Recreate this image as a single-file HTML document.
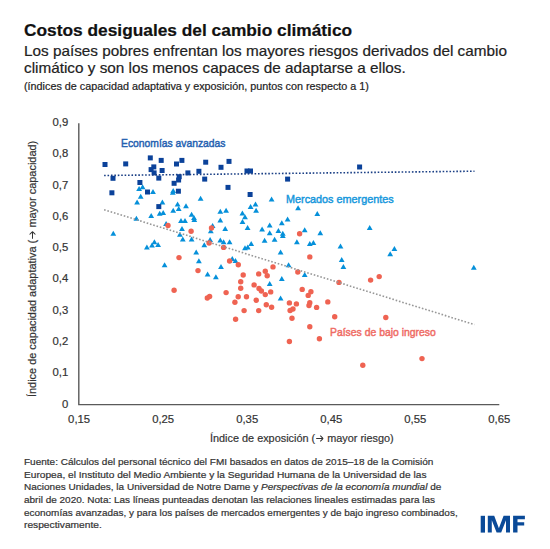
<!DOCTYPE html>
<html><head><meta charset="utf-8"><style>
html,body{margin:0;padding:0;background:#fff;}
body{width:550px;height:549px;position:relative;overflow:hidden;font-family:"Liberation Sans",sans-serif;}
.t{position:absolute;white-space:nowrap;transform-origin:0 0;line-height:1;-webkit-text-stroke:0.2px currentColor;}
.ty{position:absolute;left:28.2px;width:40px;text-align:right;font-size:11.3px;color:#333;line-height:1;-webkit-text-stroke:0.2px currentColor;}
.tx{position:absolute;top:414.23px;width:60px;text-align:center;font-size:11.3px;color:#333;line-height:1;-webkit-text-stroke:0.2px currentColor;}
svg{position:absolute;left:0;top:0;}
</style></head><body>
<svg width="550" height="549" viewBox="0 0 550 549">
<path d="M78.8 123.3V404.6H499.3" fill="none" stroke="#5a5a5a" stroke-width="1.4"/>
<g fill="#0590da"><path d="M136.2 191.1L139.1 186.1L142.0 191.1Z"/><path d="M139.7 189.3L142.6 184.3L145.5 189.3Z"/><path d="M150.1 193.9L153.0 188.9L155.9 193.9Z"/><path d="M137.8 198.8L140.7 193.8L143.6 198.8Z"/><path d="M134.2 204.4L137.1 199.4L140.0 204.4Z"/><path d="M159.5 204.4L162.4 199.4L165.3 204.4Z"/><path d="M148.3 217.9L151.2 212.9L154.1 217.9Z"/><path d="M156.8 215.7L159.7 210.7L162.6 215.7Z"/><path d="M160.3 215.0L163.2 210.0L166.1 215.0Z"/><path d="M133.5 220.7L136.4 215.7L139.3 220.7Z"/><path d="M170.3 193.0L173.2 188.0L176.1 193.0Z"/><path d="M169.9 194.7L172.8 189.7L175.7 194.7Z"/><path d="M197.7 200.7L200.6 195.7L203.5 200.7Z"/><path d="M174.7 206.5L177.6 201.5L180.5 206.5Z"/><path d="M175.8 210.9L178.7 205.9L181.6 210.9Z"/><path d="M183.1 208.3L186.0 203.3L188.9 208.3Z"/><path d="M170.3 212.7L173.2 207.7L176.1 212.7Z"/><path d="M188.7 216.7L191.6 211.7L194.5 216.7Z"/><path d="M191.1 220.0L194.0 215.0L196.9 220.0Z"/><path d="M191.4 221.9L194.3 216.9L197.2 221.9Z"/><path d="M217.4 213.8L220.3 208.8L223.2 213.8Z"/><path d="M223.2 212.7L226.1 207.7L229.0 212.7Z"/><path d="M239.5 215.4L242.4 210.4L245.3 215.4Z"/><path d="M242.1 219.2L245.0 214.2L247.9 219.2Z"/><path d="M178.1 222.9L181.0 217.9L183.9 222.9Z"/><path d="M182.1 222.9L185.0 217.9L187.9 222.9Z"/><path d="M217.4 222.6L220.3 217.6L223.2 222.6Z"/><path d="M239.6 224.0L242.5 219.0L245.4 224.0Z"/><path d="M247.7 209.0L250.6 204.0L253.5 209.0Z"/><path d="M252.6 206.4L255.5 201.4L258.4 206.4Z"/><path d="M253.2 212.8L256.1 207.8L259.0 212.8Z"/><path d="M268.7 201.4L271.6 196.4L274.5 201.4Z"/><path d="M295.2 210.2L298.1 205.2L301.0 210.2Z"/><path d="M314.4 216.0L317.3 211.0L320.2 216.0Z"/><path d="M284.7 221.6L287.6 216.6L290.5 221.6Z"/><path d="M110.4 235.8L113.3 230.8L116.2 235.8Z"/><path d="M144.0 249.4L146.9 244.4L149.8 249.4Z"/><path d="M149.1 247.5L152.0 242.5L154.9 247.5Z"/><path d="M151.5 244.3L154.4 239.3L157.3 244.3Z"/><path d="M155.2 246.9L158.1 241.9L161.0 246.9Z"/><path d="M161.7 267.3L164.6 262.3L167.5 267.3Z"/><path d="M163.2 226.0L166.1 221.0L169.0 226.0Z"/><path d="M179.1 230.9L182.0 225.9L184.9 230.9Z"/><path d="M209.7 227.9L212.6 222.9L215.5 227.9Z"/><path d="M207.9 233.3L210.8 228.3L213.7 233.3Z"/><path d="M222.3 231.0L225.2 226.0L228.1 231.0Z"/><path d="M244.7 230.0L247.6 225.0L250.5 230.0Z"/><path d="M177.0 236.7L179.9 231.7L182.8 236.7Z"/><path d="M179.9 241.6L182.8 236.6L185.7 241.6Z"/><path d="M188.7 241.6L191.6 236.6L194.5 241.6Z"/><path d="M207.2 242.1L210.1 237.1L213.0 242.1Z"/><path d="M217.4 242.5L220.3 237.5L223.2 242.5Z"/><path d="M220.7 244.3L223.6 239.3L226.5 244.3Z"/><path d="M226.7 244.3L229.6 239.3L232.5 244.3Z"/><path d="M201.4 247.2L204.3 242.2L207.2 247.2Z"/><path d="M242.1 250.2L245.0 245.2L247.9 250.2Z"/><path d="M244.9 249.6L247.8 244.6L250.7 249.6Z"/><path d="M193.3 254.5L196.2 249.5L199.1 254.5Z"/><path d="M196.0 263.2L198.9 258.2L201.8 263.2Z"/><path d="M229.4 261.1L232.3 256.1L235.2 261.1Z"/><path d="M232.6 263.0L235.5 258.0L238.4 263.0Z"/><path d="M218.1 269.0L221.0 264.0L223.9 269.0Z"/><path d="M204.7 276.6L207.6 271.6L210.5 276.6Z"/><path d="M213.0 279.3L215.9 274.3L218.8 279.3Z"/><path d="M266.8 227.4L269.7 222.4L272.6 227.4Z"/><path d="M278.9 225.3L281.8 220.3L284.7 225.3Z"/><path d="M259.2 231.6L262.1 226.6L265.0 231.6Z"/><path d="M266.8 235.2L269.7 230.2L272.6 235.2Z"/><path d="M275.5 232.9L278.4 227.9L281.3 232.9Z"/><path d="M279.9 235.8L282.8 230.8L285.7 235.8Z"/><path d="M279.9 238.1L282.8 233.1L285.7 238.1Z"/><path d="M301.8 232.3L304.7 227.3L307.6 232.3Z"/><path d="M317.4 235.2L320.3 230.2L323.2 235.2Z"/><path d="M248.3 246.1L251.2 241.1L254.1 246.1Z"/><path d="M261.7 242.7L264.6 237.7L267.5 242.7Z"/><path d="M271.7 241.8L274.6 236.8L277.5 241.8Z"/><path d="M294.0 244.3L296.9 239.3L299.8 244.3Z"/><path d="M306.9 246.0L309.8 241.0L312.7 246.0Z"/><path d="M310.5 245.0L313.4 240.0L316.3 245.0Z"/><path d="M277.7 254.5L280.6 249.5L283.5 254.5Z"/><path d="M285.7 267.3L288.6 262.3L291.5 267.3Z"/><path d="M301.8 277.1L304.7 272.1L307.6 277.1Z"/><path d="M278.9 281.0L281.8 276.0L284.7 281.0Z"/><path d="M266.8 286.1L269.7 281.1L272.6 286.1Z"/><path d="M277.7 300.4L280.6 295.4L283.5 300.4Z"/><path d="M366.8 230.0L369.7 225.0L372.6 230.0Z"/><path d="M337.6 248.6L340.5 243.6L343.4 248.6Z"/><path d="M391.5 251.1L394.4 246.1L397.3 251.1Z"/><path d="M387.3 256.2L390.2 251.2L393.1 256.2Z"/><path d="M338.8 262.1L341.7 257.1L344.6 262.1Z"/><path d="M340.5 269.0L343.4 264.0L346.3 269.0Z"/><path d="M470.9 269.8L473.8 264.8L476.7 269.8Z"/></g>
<g fill="#ef6352"><circle cx="168.0" cy="225.5" r="2.7"/><circle cx="191.1" cy="231.2" r="2.7"/><circle cx="211.5" cy="228.0" r="2.7"/><circle cx="209.1" cy="243.0" r="2.7"/><circle cx="223.6" cy="247.4" r="2.7"/><circle cx="179.0" cy="257.6" r="2.7"/><circle cx="229.6" cy="261.0" r="2.7"/><circle cx="238.3" cy="264.8" r="2.7"/><circle cx="198.0" cy="270.6" r="2.7"/><circle cx="243.2" cy="275.0" r="2.7"/><circle cx="240.7" cy="281.7" r="2.7"/><circle cx="240.7" cy="288.2" r="2.7"/><circle cx="174.1" cy="290.3" r="2.7"/><circle cx="226.1" cy="292.6" r="2.7"/><circle cx="207.3" cy="298.0" r="2.7"/><circle cx="209.6" cy="296.4" r="2.7"/><circle cx="238.2" cy="296.8" r="2.7"/><circle cx="246.5" cy="296.8" r="2.7"/><circle cx="299.6" cy="233.8" r="2.7"/><circle cx="309.8" cy="256.9" r="2.7"/><circle cx="273.0" cy="266.9" r="2.7"/><circle cx="265.3" cy="271.3" r="2.7"/><circle cx="258.7" cy="273.9" r="2.7"/><circle cx="267.2" cy="275.7" r="2.7"/><circle cx="297.8" cy="272.0" r="2.7"/><circle cx="254.1" cy="284.9" r="2.7"/><circle cx="259.0" cy="288.5" r="2.7"/><circle cx="261.4" cy="291.0" r="2.7"/><circle cx="265.3" cy="294.6" r="2.7"/><circle cx="270.7" cy="291.9" r="2.7"/><circle cx="302.2" cy="289.4" r="2.7"/><circle cx="310.9" cy="291.8" r="2.7"/><circle cx="308.2" cy="295.4" r="2.7"/><circle cx="256.2" cy="300.3" r="2.7"/><circle cx="339.0" cy="282.4" r="2.7"/><circle cx="370.6" cy="280.1" r="2.7"/><circle cx="379.2" cy="276.6" r="2.7"/><circle cx="234.9" cy="302.2" r="2.7"/><circle cx="244.1" cy="310.6" r="2.7"/><circle cx="235.6" cy="319.2" r="2.7"/><circle cx="266.3" cy="304.7" r="2.7"/><circle cx="271.6" cy="307.3" r="2.7"/><circle cx="258.7" cy="310.6" r="2.7"/><circle cx="289.4" cy="302.9" r="2.7"/><circle cx="296.4" cy="303.9" r="2.7"/><circle cx="290.1" cy="310.5" r="2.7"/><circle cx="293.0" cy="309.0" r="2.7"/><circle cx="309.8" cy="302.7" r="2.7"/><circle cx="309.0" cy="305.5" r="2.7"/><circle cx="316.6" cy="307.4" r="2.7"/><circle cx="327.8" cy="301.9" r="2.7"/><circle cx="292.0" cy="318.2" r="2.7"/><circle cx="309.8" cy="326.7" r="2.7"/><circle cx="319.4" cy="338.7" r="2.7"/><circle cx="289.4" cy="341.5" r="2.7"/><circle cx="334.7" cy="316.7" r="2.7"/><circle cx="385.8" cy="317.5" r="2.7"/><circle cx="362.8" cy="365.3" r="2.7"/><circle cx="422.0" cy="358.6" r="2.7"/></g>
<line x1="104.1" y1="209.7" x2="474.5" y2="324.6" stroke="#979797" stroke-width="1.6" stroke-dasharray="1.6 1.83"/>
<g fill="#0b429a"><rect x="102.5" y="162.0" width="5" height="5"/><rect x="123.2" y="161.4" width="5" height="5"/><rect x="147.8" y="155.4" width="5" height="5"/><rect x="158.7" y="157.9" width="5" height="5"/><rect x="151.3" y="164.4" width="5" height="5"/><rect x="148.6" y="167.1" width="5" height="5"/><rect x="159.6" y="168.0" width="5" height="5"/><rect x="151.6" y="170.4" width="5" height="5"/><rect x="110.5" y="175.8" width="5" height="5"/><rect x="156.3" y="175.6" width="5" height="5"/><rect x="137.4" y="180.0" width="5" height="5"/><rect x="109.4" y="190.3" width="5" height="5"/><rect x="145.0" y="189.5" width="5" height="5"/><rect x="156.3" y="204.1" width="5" height="5"/><rect x="179.4" y="157.9" width="5" height="5"/><rect x="174.0" y="161.5" width="5" height="5"/><rect x="203.2" y="159.7" width="5" height="5"/><rect x="226.5" y="158.9" width="5" height="5"/><rect x="218.5" y="164.8" width="5" height="5"/><rect x="185.4" y="170.4" width="5" height="5"/><rect x="196.4" y="168.8" width="5" height="5"/><rect x="244.5" y="168.5" width="5" height="5"/><rect x="248.0" y="168.5" width="5" height="5"/><rect x="176.7" y="174.2" width="5" height="5"/><rect x="176.1" y="177.5" width="5" height="5"/><rect x="171.6" y="180.8" width="5" height="5"/><rect x="202.2" y="176.6" width="5" height="5"/><rect x="225.5" y="184.9" width="5" height="5"/><rect x="175.9" y="188.7" width="5" height="5"/><rect x="247.6" y="192.0" width="5" height="5"/><rect x="285.1" y="176.6" width="5" height="5"/><rect x="357.1" y="164.5" width="5" height="5"/></g>
<line x1="104.1" y1="175.5" x2="474.5" y2="171.2" stroke="#1a3f85" stroke-width="1.6" stroke-dasharray="1.6 1.82"/>
</svg>
<div class="ty" style="top:398.53px">0</div>
<div class="ty" style="top:367.26px">0,1</div>
<div class="ty" style="top:335.99px">0,2</div>
<div class="ty" style="top:304.72px">0,3</div>
<div class="ty" style="top:273.45px">0,4</div>
<div class="ty" style="top:242.18px">0,5</div>
<div class="ty" style="top:210.91px">0,6</div>
<div class="ty" style="top:179.64px">0,7</div>
<div class="ty" style="top:148.37px">0,8</div>
<div class="ty" style="top:117.10px">0,9</div>
<div class="tx" style="left:49.10px">0,15</div>
<div class="tx" style="left:133.14px">0,25</div>
<div class="tx" style="left:217.18px">0,35</div>
<div class="tx" style="left:301.22px">0,45</div>
<div class="tx" style="left:385.26px">0,55</div>
<div class="tx" style="left:469.30px">0,65</div>
<div class="t" id="ylab" style="left:27.32px;top:396.50px;font-size:11.20px;color:#333;transform:rotate(-90deg) scaleX(0.9754);">Índice de capacidad adaptativa (<svg width="8.5" height="7" viewBox="0 0 8.5 7" style="position:static;vertical-align:-0.3px;margin:0 0.5px"><path d="M0.3 3.5H7.6M4.6 0.6L7.6 3.5L4.6 6.4" stroke="#333" stroke-width="1.05" fill="none"/></svg> mayor capacidad)</div>
<div class="t" id="title" style="left:23.62px;top:22.36px;font-size:17.30px;transform:scaleX(1.0019);font-weight:bold;color:#111;">Costos desiguales del cambio climático</div>
<div class="t" id="sub1" style="left:24.39px;top:43.40px;font-size:15.00px;transform:scaleX(1.0197);color:#222;">Los países pobres enfrentan los mayores riesgos derivados del cambio</div>
<div class="t" id="sub2" style="left:24.39px;top:60.10px;font-size:15.00px;transform:scaleX(1.0196);color:#222;">climático y son los menos capaces de adaptarse a ellos.</div>
<div class="t" id="note" style="left:24.39px;top:81.33px;font-size:10.60px;transform:scaleX(1.0186);color:#222;">(índices de capacidad adaptativa y exposición, puntos con respecto a 1)</div>
<div class="t" id="xlab" style="left:209.81px;top:433.15px;font-size:11.40px;transform:scaleX(0.9541);color:#333;">Índice de exposición (<svg width="8.5" height="7" viewBox="0 0 8.5 7" style="position:static;vertical-align:-0.3px;margin:0 0.5px"><path d="M0.3 3.5H7.6M4.6 0.6L7.6 3.5L4.6 6.4" stroke="#333" stroke-width="1.05" fill="none"/></svg> mayor riesgo)</div>
<div class="t" id="lab1" style="left:120.81px;top:137.77px;font-size:11.50px;transform:scaleX(0.8980);color:#2360b0;-webkit-text-stroke:0.45px #2360b0;">Economías avanzadas</div>
<div class="t" id="lab2" style="left:285.66px;top:193.67px;font-size:11.50px;transform:scaleX(0.9413);color:#1597dc;-webkit-text-stroke:0.45px #1597dc;">Mercados emergentes</div>
<div class="t" id="lab3" style="left:329.58px;top:327.09px;font-size:11.00px;transform:scaleX(0.9453);color:#ef6b64;-webkit-text-stroke:0.45px #ef6b64;">Países de bajo ingreso</div>
<div class="t" id="f1" style="left:24.39px;top:458.33px;font-size:9.30px;transform:scaleX(1.0764);color:#333;">Fuente: Cálculos del personal técnico del FMI basados en datos de 2015–18 de la Comisión</div>
<div class="t" id="f2" style="left:24.39px;top:470.83px;font-size:9.30px;transform:scaleX(1.0922);color:#333;">Europea, el Instituto del Medio Ambiente y la Seguridad Humana de la Universidad de las</div>
<div class="t" id="f3" style="left:24.39px;top:483.43px;font-size:9.30px;transform:scaleX(1.0766);color:#333;">Naciones Unidades, la Universidad de Notre Dame y <i>Perspectivas de la economía mundial</i> de</div>
<div class="t" id="f4" style="left:24.39px;top:496.03px;font-size:9.30px;transform:scaleX(1.0749);color:#333;">abril de 2020. Nota: Las líneas punteadas denotan las relaciones lineales estimadas para las</div>
<div class="t" id="f5" style="left:24.39px;top:508.73px;font-size:9.30px;transform:scaleX(1.0703);color:#333;">economías avanzadas, y para los países de mercados emergentes y de bajo ingreso combinados,</div>
<div class="t" id="f6" style="left:24.39px;top:521.33px;font-size:9.30px;transform:scaleX(1.0988);color:#333;">respectivamente.</div>

<svg width="550" height="549" viewBox="0 0 550 549" style="position:absolute;left:0;top:0">
<g fill="#0a4a98">
<rect x="480.7" y="515.8" width="4.3" height="16.8"/>
<path d="M487.8 515.8H494.2L498.9 528.2L503.6 515.8H510V532.6H506V520.2L501.2 532.6H496.6L491.8 520.2V532.6H487.8Z"/>
<path d="M513.1 515.8H524.9V519.3H517.5V522.3H524.2V525.6H517.5V532.6H513.1Z"/>
</g>
</svg>
</body></html>
